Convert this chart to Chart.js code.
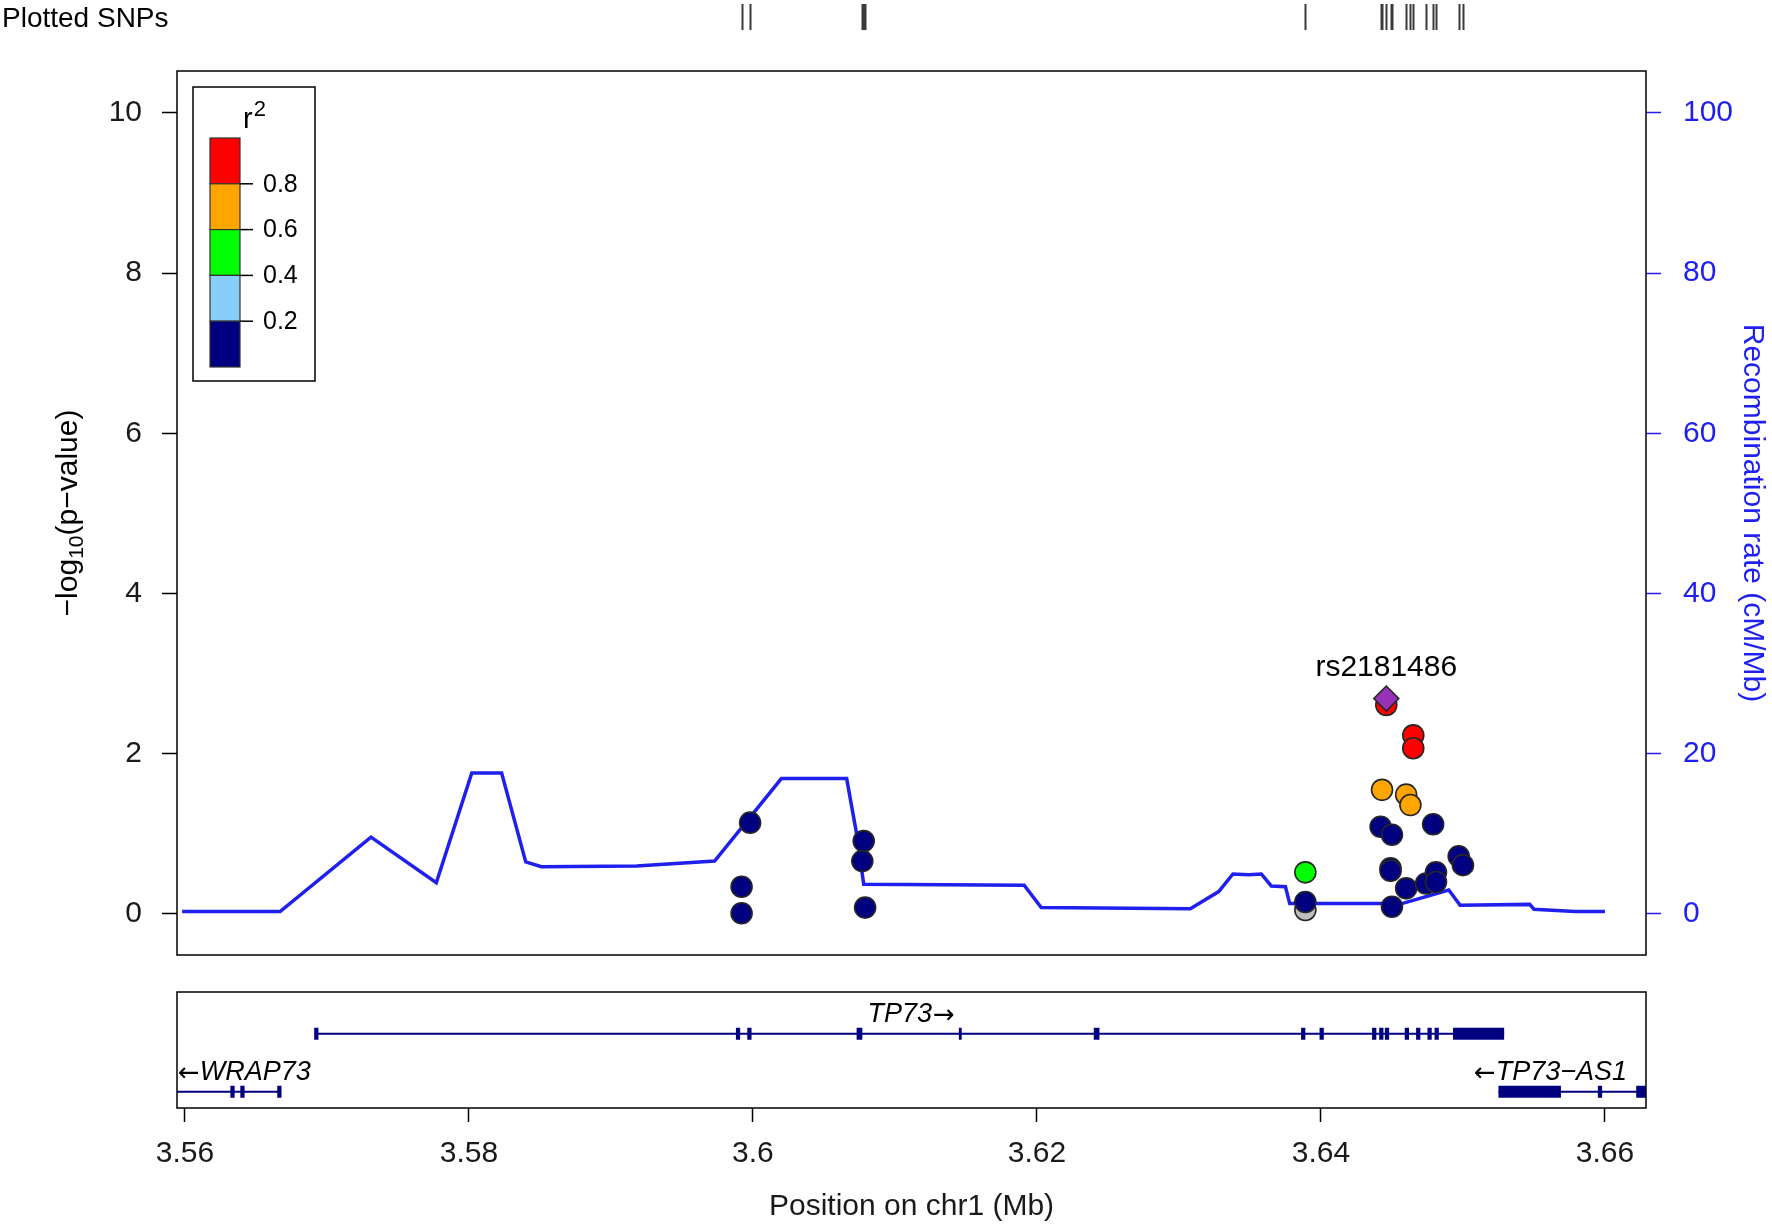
<!DOCTYPE html>
<html>
<head>
<meta charset="utf-8">
<script src="https://cdn.jsdelivr.net/npm/chart.js@4.4.0/dist/chart.umd.min.js"></script>
<style>
  html, body { margin: 0; padding: 0; background: #fff; }
  #wrap { position: relative; width: 1772px; height: 1230px; }
  canvas { position: absolute; left: 0; top: 0; }
</style>
</head>
<body>
<div id="wrap">
  <canvas id="genes" width="1772" height="1230"></canvas>
  <canvas id="assoc" width="1772" height="1230"></canvas>
</div>
<script>
// SNPs (position in Mb, -log10 p, r2 with index SNP; NaN = no LD info)
const snpPos  = [3.5992, 3.5992, 3.5998, 3.6078, 3.6077, 3.6079, 3.6389, 3.6389, 3.6389,
                 3.6446, 3.6465, 3.6465, 3.6443, 3.6460, 3.6463, 3.6442, 3.6450, 3.6479,
                 3.6449, 3.6449, 3.6460, 3.6450, 3.6474, 3.6481, 3.6481, 3.6497, 3.6500];
const snpLogP = [0.34, 0.01, 1.14, 0.91, 0.66, 0.08, 0.52, 0.05, 0.15,
                 2.61, 2.23, 2.07, 1.55, 1.49, 1.36, 1.09, 0.99, 1.12,
                 0.57, 0.54, 0.32, 0.09, 0.38, 0.52, 0.40, 0.72, 0.61];
const snpR2   = [0.1, 0.1, 0.1, 0.1, 0.1, 0.1, 0.5, NaN, 0.1,
                 0.9, 0.9, 0.9, 0.7, 0.7, 0.7, 0.1, 0.1, 0.1,
                 0.1, 0.1, 0.1, 0.1, 0.1, 0.1, 0.1, 0.1, 0.1];
const indexSnp = 'rs2181486';
const indexPos = 3.6446;
const indexLogP = 2.69;

// recombination rate (cM/Mb)
const recombPos  = [3.5598, 3.5667, 3.5731, 3.5777, 3.5802, 3.5823, 3.5840, 3.5851, 3.5918, 3.5973,
                    3.6020, 3.6066, 3.6073, 3.6078, 3.6191, 3.6203, 3.6308, 3.6328, 3.6338, 3.6349,
                    3.6358, 3.6365, 3.6375, 3.6378, 3.6457, 3.6490, 3.6498, 3.6547, 3.6550, 3.6579, 3.6600];
const recombRate = [0.3, 0.3, 9.6, 3.9, 17.6, 17.6, 6.5, 5.9, 6.0, 6.6,
                    16.9, 16.9, 10.0, 3.7, 3.6, 0.8, 0.65, 2.8, 5.0, 4.9,
                    5.0, 3.5, 3.4, 1.3, 1.3, 3.0, 1.1, 1.2, 0.6, 0.3, 0.3];

// genes
const geneNames  = ['TP73', 'WRAP73', 'TP73\u2212AS1'];
const geneStrand = ['+', '-', '-'];
const geneStart  = [3.5693, 3.5500, 3.6525];
const geneEnd    = [3.6529, 3.5667, 3.6700];
const geneRow    = [1, 0, 0];
const tp73Exons  = [[3.5691, 3.5694], [3.5988, 3.5991], [3.5996, 3.5999], [3.6073, 3.6077],
                    [3.6145, 3.6147], [3.6240, 3.6244], [3.6386, 3.6389], [3.6399, 3.6402],
                    [3.6436, 3.6439], [3.6441, 3.6444], [3.6445, 3.6448], [3.6459, 3.6462],
                    [3.6467, 3.6470], [3.6475, 3.6478], [3.6480, 3.6483], [3.6493, 3.6529]];
const wrap73Exons = [[3.5632, 3.5635], [3.5639, 3.5642], [3.5665, 3.5668]];
const tp73as1Exons = [[3.6525, 3.6569], [3.6595, 3.6598], [3.6622, 3.6640]];

// axis ticks
const xTicks = [3.56, 3.58, 3.60, 3.62, 3.64, 3.66];
const pTicks = [0, 2, 4, 6, 8, 10];
const recombTicks = [0, 20, 40, 60, 80, 100];

// LD colour key
const ldBreaks = [0.2, 0.4, 0.6, 0.8];
const ldColors = ['#000080', '#87CEFA', '#00FF00', '#FFA500', '#FF0000'];
const missingColor = '#BEBEBE';
const indexColor = '#9632B8';

const FONT = '"Liberation Sans", Arial, Helvetica, sans-serif';
const ARROW_FONT = '"DejaVu Sans", sans-serif';
Chart.defaults.font.family = FONT;
Chart.defaults.color = '#000';

const X_MIN = 3.55944, X_MAX = 3.66289;

function ldBin(r2) {
  if (isNaN(r2)) return -1;
  let b = 0;
  while (b < ldBreaks.length && r2 >= ldBreaks[b]) b++;
  return b;
}

function snpSet(bin, color) {
  const data = [];
  snpPos.forEach((p, i) => { if (ldBin(snpR2[i]) === bin) data.push({ x: p, y: snpLogP[i] }); });
  return {
    type: 'scatter', data, yAxisID: 'y',
    backgroundColor: color, borderColor: '#262626', borderWidth: 1.6,
    pointRadius: 10.5, pointHoverRadius: 10.5
  };
}

// first dataset ends up on top
const assocSets = [{
  type: 'scatter', data: [{ x: indexPos, y: indexLogP }], yAxisID: 'y',
  backgroundColor: indexColor, borderColor: '#262626', borderWidth: 1.6,
  pointStyle: 'rectRot', pointRadius: 12.5, pointHoverRadius: 12.5
}];
for (let b = ldColors.length - 1; b >= 0; b--) assocSets.push(snpSet(b, ldColors[b]));
assocSets.push(snpSet(-1, missingColor));
assocSets.push({
  type: 'line', yAxisID: 'y2',
  data: recombPos.map((x, i) => ({ x, y: recombRate[i] })),
  borderColor: '#1f1fee', borderWidth: 3.5, pointRadius: 0, tension: 0
});

const assocPlugin = {
  id: 'assocExtras',
  afterDraw(chart) {
    const ctx = chart.ctx;
    const ca = chart.chartArea;
    const xs = chart.scales.x, ys = chart.scales.y;
    ctx.save();

    // plot box
    ctx.strokeStyle = '#000'; ctx.lineWidth = 1.5;
    ctx.strokeRect(ca.left, ca.top, ca.right - ca.left, ca.bottom - ca.top);

    // plotted SNPs rug
    ctx.fillStyle = '#000';
    ctx.font = '28px ' + FONT;
    ctx.textAlign = 'left'; ctx.textBaseline = 'middle';
    ctx.fillText('Plotted SNPs', 2, 19);
    ctx.strokeStyle = '#3a3a3a'; ctx.lineWidth = 2;
    ctx.beginPath();
    snpPos.concat([indexPos]).forEach(p => {
      const px = Math.round(xs.getPixelForValue(p)) + 0.5;
      ctx.moveTo(px, 4); ctx.lineTo(px, 30);
    });
    ctx.stroke();

    // index SNP label
    ctx.font = '30px ' + FONT;
    ctx.textAlign = 'center';
    ctx.fillText(indexSnp, xs.getPixelForValue(indexPos), ys.getPixelForValue(indexLogP) - 31);

    // left axis title with subscript
    ctx.translate(69, (ca.top + ca.bottom) / 2);
    ctx.rotate(-Math.PI / 2);
    const parts = [['\u2212log', 30, 0], ['10', 21, 8], ['(p\u2212value)', 30, 0]];
    let total = 0;
    parts.forEach(p => { ctx.font = p[1] + 'px ' + FONT; total += ctx.measureText(p[0]).width; });
    let cx = -total / 2;
    ctx.textAlign = 'left';
    parts.forEach(p => {
      ctx.font = p[1] + 'px ' + FONT;
      ctx.fillText(p[0], cx, p[2]);
      cx += ctx.measureText(p[0]).width;
    });
    ctx.restore();

    // LD legend
    ctx.save();
    ctx.fillStyle = '#fff';
    ctx.fillRect(193, 87, 122, 294);
    ctx.strokeStyle = '#000'; ctx.lineWidth = 1.5;
    ctx.strokeRect(193, 87, 122, 294);
    ctx.fillStyle = '#000';
    ctx.textBaseline = 'alphabetic'; ctx.textAlign = 'left';
    ctx.font = '29px ' + FONT;
    const rw = ctx.measureText('r').width;
    ctx.font = '22px ' + FONT;
    const tw = ctx.measureText('2').width;
    const rx = 254 - (rw + tw) / 2;
    ctx.font = '29px ' + FONT;
    ctx.fillText('r', rx, 128);
    ctx.font = '22px ' + FONT;
    ctx.fillText('2', rx + rw + 1, 116);
    const top = 138, bh = 45.8;
    for (let i = 0; i < ldColors.length; i++) {
      const y0 = top + i * bh;
      ctx.fillStyle = ldColors[ldColors.length - 1 - i];
      ctx.fillRect(210, y0, 30, bh);
      ctx.strokeStyle = '#333'; ctx.lineWidth = 1.2;
      ctx.strokeRect(210, y0, 30, bh);
    }
    ctx.strokeStyle = '#000'; ctx.lineWidth = 1.5;
    ctx.fillStyle = '#000';
    ctx.font = '25px ' + FONT;
    ctx.textBaseline = 'middle';
    ldBreaks.slice().reverse().forEach((v, i) => {
      const y = top + (i + 1) * bh;
      ctx.beginPath(); ctx.moveTo(240, y); ctx.lineTo(253, y); ctx.stroke();
      ctx.fillText(v.toFixed(1), 263, y + 1);
    });
    ctx.restore();
  }
};

new Chart(document.getElementById('assoc'), {
  data: { datasets: assocSets },
  options: {
    responsive: false, animation: false, devicePixelRatio: 1,
    layout: { padding: { top: 71, bottom: 275, left: 0, right: 0 } },
    plugins: { legend: { display: false }, tooltip: { enabled: false } },
    scales: {
      x: { type: 'linear', min: X_MIN, max: X_MAX, display: false },
      y: {
        type: 'linear', position: 'left', min: -0.512, max: 10.524,
        afterBuildTicks: s => { s.ticks = pTicks.map(v => ({ value: v })); },
        afterFit: s => { s.width = 177; },
        grid: { drawOnChartArea: false, drawTicks: true, tickLength: 15, tickColor: '#000', tickWidth: 1.5 },
        border: { display: false },
        ticks: { font: { size: 30 }, color: '#1a1a1a', padding: 20, callback: v => String(v) }
      },
      y2: {
        type: 'linear', position: 'right', min: -5.12, max: 105.24,
        afterBuildTicks: s => { s.ticks = recombTicks.map(v => ({ value: v })); },
        afterFit: s => { s.width = 126; },
        grid: { drawOnChartArea: false, drawTicks: true, tickLength: 15, tickColor: '#1f1fee', tickWidth: 1.5 },
        border: { display: false },
        ticks: { font: { size: 30 }, color: '#1f1fee', padding: 22, callback: v => String(v) },
        title: { display: true, text: 'Recombination rate (cM/Mb)', color: '#1f1fee', font: { size: 30 }, padding: { top: 2 } }
      }
    }
  },
  plugins: [assocPlugin]
});

// gene track
const geneSets = [];
const exonLists = [tp73Exons, wrap73Exons, tp73as1Exons];
geneNames.forEach((g, gi) => {
  const row = geneRow[gi];
  geneSets.push({
    type: 'line', data: [{ x: geneStart[gi], y: row }, { x: geneEnd[gi], y: row }],
    borderColor: '#000080', borderWidth: 2, pointRadius: 0, clip: 0
  });
  exonLists[gi].forEach(e => {
    geneSets.push({
      type: 'line', data: [{ x: e[0], y: row }, { x: e[1], y: row }],
      borderColor: '#000080', borderWidth: 12, borderCapStyle: 'butt', pointRadius: 0, clip: 0
    });
  });
});

const genePlugin = {
  id: 'geneExtras',
  afterDraw(chart) {
    const ctx = chart.ctx;
    const ca = chart.chartArea;
    const xs = chart.scales.x, ys = chart.scales.y;
    ctx.save();
    ctx.strokeStyle = '#000'; ctx.lineWidth = 1.5;
    ctx.strokeRect(ca.left, ca.top, ca.right - ca.left, ca.bottom - ca.top);
    ctx.fillStyle = '#000';
    ctx.textBaseline = 'middle';
    ctx.textAlign = 'left';
    const nameFont = 'italic 27px ' + FONT;
    const arrowFont = '26px ' + ARROW_FONT;
    geneNames.forEach((g, gi) => {
      const fwd = geneStrand[gi] === '+';
      const arrow = fwd ? '\u2192' : '\u2190';
      ctx.font = nameFont; const nw = ctx.measureText(g).width;
      ctx.font = arrowFont; const aw = ctx.measureText(arrow).width;
      const w = nw + aw;
      const y = ys.getPixelForValue(geneRow[gi]) - 19;
      let x = xs.getPixelForValue((geneStart[gi] + geneEnd[gi]) / 2) - w / 2;
      x = Math.max(ca.left + 1, Math.min(ca.right - 19 - w, x));
      if (fwd) {
        ctx.font = nameFont; ctx.fillText(g, x, y);
        ctx.font = arrowFont; ctx.fillText(arrow, x + nw + 1, y + 1);
      } else {
        ctx.font = arrowFont; ctx.fillText(arrow, x, y + 1);
        ctx.font = nameFont; ctx.fillText(g, x + aw, y);
      }
    });
    ctx.restore();
  }
};

new Chart(document.getElementById('genes'), {
  data: { datasets: geneSets },
  options: {
    responsive: false, animation: false, devicePixelRatio: 1,
    layout: { padding: { top: 992, bottom: 0, left: 177, right: 126 } },
    plugins: { legend: { display: false }, tooltip: { enabled: false } },
    scales: {
      x: {
        type: 'linear', position: 'bottom', min: X_MIN, max: X_MAX,
        afterBuildTicks: s => { s.ticks = xTicks.map(v => ({ value: v })); },
        afterFit: s => { s.height = 122; },
        grid: { drawOnChartArea: false, drawTicks: true, tickLength: 14, tickColor: '#000', tickWidth: 1.5 },
        border: { display: false },
        ticks: { font: { size: 30 }, color: '#1a1a1a', padding: 14, maxRotation: 0, autoSkip: false,
                 callback: v => String(Number(v.toFixed(3))) },
        title: { display: true, text: 'Position on chr1 (Mb)', font: { size: 30 }, color: '#1a1a1a', padding: { bottom: 5 } }
      },
      y: { type: 'linear', min: -0.28, max: 1.72, display: false }
    }
  },
  plugins: [genePlugin]
});
</script>
</body>
</html>
